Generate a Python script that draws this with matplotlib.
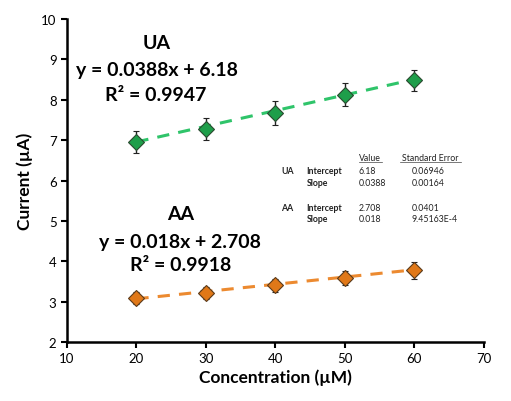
import numpy as np
import matplotlib.pyplot as plt

plt.rcParams['font.family'] = ['Lato', 'DejaVu Sans']

# Data
conc = [20, 30, 40, 50, 60]
ua_current = [6.96, 7.27, 7.67, 8.13, 8.48]
ua_err = [0.27, 0.27, 0.29, 0.29, 0.27]
aa_current = [3.09, 3.21, 3.40, 3.58, 3.77]
aa_err = [0.15, 0.15, 0.16, 0.17, 0.20]

ua_slope, ua_intercept, ua_r2 = 0.0388, 6.18, 0.9947
aa_slope, aa_intercept, aa_r2 = 0.018, 2.708, 0.9918

table_rows = [
    ("UA", "Intercept", "6.18", "0.06946"),
    ("", "Slope", "0.0388", "0.00164"),
    ("AA", "Intercept", "2.708", "0.0401"),
    ("", "Slope", "0.018", "9.45163E-4"),
]

green_face, green_line = '#1e9e4a', '#2fc46a'
orange_face, orange_line = '#e07818', '#ec8a30'

fig = plt.figure(figsize=(5.11, 4.02), dpi=100)
ax = fig.add_axes([0.131, 0.147, 0.816, 0.803])

x_fit = np.array([conc[0], conc[-1]])
ax.plot(x_fit, ua_slope * x_fit + ua_intercept, '--', color=green_line, lw=2.2, dashes=(4, 3))
ax.plot(x_fit, aa_slope * x_fit + aa_intercept, '--', color=orange_line, lw=2.2, dashes=(4, 3))

ax.errorbar(conc, ua_current, yerr=ua_err, fmt='D', ms=8, mfc=green_face, mec='#2a4a30',
            mew=0.8, ecolor='#222222', elinewidth=1, capsize=2.5, capthick=1, zorder=3)
ax.errorbar(conc, aa_current, yerr=aa_err, fmt='D', ms=8, mfc=orange_face, mec='#5a3a1a',
            mew=0.8, ecolor='#222222', elinewidth=1, capsize=2.5, capthick=1, zorder=3)

ax.set_xlim(10, 70)
ax.set_ylim(2, 10)
ax.set_xticks(range(10, 71, 10))
ax.set_yticks(range(2, 11))
ax.tick_params(direction='out', length=4, width=1.5, labelsize=9.5)
for s in ['top', 'right']:
    ax.spines[s].set_visible(False)
for s in ['left', 'bottom']:
    ax.spines[s].set_linewidth(1.8)

ax.set_xlabel('Concentration (µM)', fontsize=12.5, fontweight='bold', labelpad=3)
ax.set_ylabel('Current (µA)', fontsize=12.5, fontweight='bold', labelpad=6)

# Equations
eq_kw = dict(ha='center', va='center', fontsize=14, fontweight='bold')
ax.text(22.9, 9.41, 'UA', **eq_kw)
ax.text(22.9, 8.74, f'y = {ua_slope}x + {ua_intercept}', **eq_kw)
ax.text(22.7, 8.14, f'R² = {ua_r2}', **eq_kw)
ax.text(26.3, 5.17, 'AA', **eq_kw)
ax.text(26.3, 4.50, f'y = {aa_slope}x + {aa_intercept}', **eq_kw)
ax.text(26.3, 3.93, f'R² = {aa_r2}', **eq_kw)

# Fit table
tkw = dict(fontsize=6.3, va='center', color='#222222')
ax.text(53.6, 6.58, 'Value', ha='center', **tkw)
ax.text(62.3, 6.58, 'Standard Error', ha='center', **tkw)
ax.plot([52.0, 55.3], [6.47, 6.47], color='#444444', lw=0.5)
ax.plot([57.9, 66.7], [6.47, 6.47], color='#444444', lw=0.5)
row_y = [6.24, 5.96, 5.34, 5.05]
for (name, param, val, se), yy in zip(table_rows, row_y):
    ax.text(40.8, yy, name, fontweight='bold', **tkw)
    ax.text(44.5, yy, param, fontweight='bold', **tkw)
    ax.text(52.0, yy, val, **tkw)
    ax.text(59.6, yy, se, **tkw)

fig.savefig('out.png', dpi=100)
